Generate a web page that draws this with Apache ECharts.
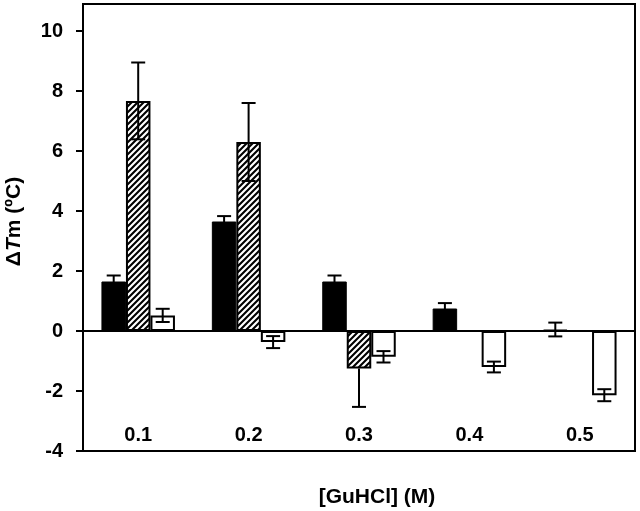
<!DOCTYPE html>
<html>
<head>
<meta charset="utf-8">
<script src="https://cdn.jsdelivr.net/npm/echarts@6/dist/echarts.min.js"></script>
<style>html,body{margin:0;padding:0;background:#fff;}#c{width:640px;height:511px;}</style>
</head>
<body>
<div id="c"></div>
<script>
var categories = ['0.1', '0.2', '0.3', '0.4', '0.5'];
var blackVals = [1.65, 3.65, 1.65, 0.75, 0.05];
var blackErrLow = [0.2, 0.18, 0.2, 0.18, 0.23];
var blackErrHigh = [0.2, 0.18, 0.2, 0.18, 0.23];
var hatchVals = [7.67, 6.3, -1.25, null, null];
var hatchErrLow = [1.28, 1.3, 1.28, null, null];
var hatchErrHigh = [1.28, 1.3, 0, null, null];
var whiteVals = [0.52, -0.37, -0.86, -1.2, -2.14];
var whiteErrLow = [0.22, 0.2, 0.19, 0.18, 0.2];
var whiteErrHigh = [0.22, 0.2, 0.19, 0.18, 0.2];
var yTicks = [-4, -2, 0, 2, 4, 6, 8, 10];

var FONT = '"Liberation Sans", Arial, sans-serif';
var BAR_W = 24.5;

// hatch pattern
var pc = document.createElement('canvas');
pc.width = 6; pc.height = 6;
var g = pc.getContext('2d');
g.fillStyle = '#fff'; g.fillRect(0, 0, 6, 6);
g.strokeStyle = '#000'; g.lineWidth = 2.1;
g.beginPath();
g.moveTo(-1, 7); g.lineTo(7, -1);
g.moveTo(-4, 4); g.lineTo(4, -4);
g.moveTo(2, 10); g.lineTo(10, 2);
g.stroke();

function errSeries(vals, lows, highs, offset) {
  var data = [];
  for (var i = 0; i < vals.length; i++) {
    if (vals[i] == null || lows[i] == null) continue;
    data.push([i, vals[i] - lows[i], vals[i] + highs[i], highs[i] > 0 ? 1 : 0]);
  }
  return {
    type: 'custom',
    z: 10,
    data: data,
    renderItem: function (params, api) {
      var lo = api.coord([api.value(0), api.value(1)]);
      var hi = api.coord([api.value(0), api.value(2)]);
      var x = lo[0] + offset;
      var cw = 7;
      var st = { stroke: '#000', lineWidth: 2 };
      var ch = [
        { type: 'line', shape: { x1: x, y1: lo[1], x2: x, y2: hi[1] }, style: st },
        { type: 'line', shape: { x1: x - cw, y1: lo[1], x2: x + cw, y2: lo[1] }, style: st }
      ];
      if (api.value(3)) {
        ch.push({ type: 'line', shape: { x1: x - cw, y1: hi[1], x2: x + cw, y2: hi[1] }, style: st });
      }
      return { type: 'group', children: ch };
    }
  };
}

var chart = echarts.init(document.getElementById('c'));
chart.setOption({
  animation: false,
  backgroundColor: '#fff',
  grid: { left: 83, right: 5, top: 4, bottom: 60, show: true, borderColor: '#000', borderWidth: 2, outerBoundsMode: 'none', containLabel: false },
  xAxis: {
    type: 'category',
    data: categories,
    axisLine: { show: false },
    axisTick: { show: false },
    axisLabel: { inside: true, margin: 6, color: '#000', fontSize: 20, fontWeight: 'bold', fontFamily: FONT },
    name: '[GuHCl] (M)',
    nameLocation: 'middle',
    nameGap: 36,
    nameTextStyle: { color: '#000', fontSize: 21, fontWeight: 'bold', fontFamily: FONT, padding: [0, 0, 0, 36] }
  },
  yAxis: {
    type: 'value',
    min: -4, max: 10.9, interval: 2,
    splitLine: { show: false },
    axisLine: { show: true, lineStyle: { color: '#000', width: 2 } },
    axisTick: { show: true, length: 7, lineStyle: { color: '#000', width: 2 }, customValues: yTicks },
    axisLabel: { margin: 20, color: '#000', fontSize: 20, fontWeight: 'bold', fontFamily: FONT, customValues: yTicks },
    name: '{r|Δ}{i|T}{r|m (ºC)}',
    nameLocation: 'middle',
    nameGap: 58,
    nameTextStyle: {
      padding: [0, 0, 0, 12],
      rich: {
        r: { color: '#000', fontSize: 21, fontWeight: 'bold', fontFamily: FONT },
        i: { color: '#000', fontSize: 21, fontWeight: 'bold', fontStyle: 'italic', fontFamily: FONT }
      }
    }
  },
  series: [
    {
      type: 'bar', data: blackVals, barWidth: BAR_W, barGap: '0%',
      itemStyle: { color: '#000', borderColor: '#000', borderWidth: 1 },
      markLine: {
        silent: true, symbol: 'none', label: { show: false },
        lineStyle: { color: '#000', width: 2, type: 'solid' },
        data: [{ yAxis: 0 }]
      }
    },
    {
      type: 'bar', data: hatchVals, barWidth: BAR_W, barGap: '0%',
      itemStyle: { color: { image: pc, repeat: 'repeat' }, borderColor: '#000', borderWidth: 2 }
    },
    {
      type: 'bar', data: whiteVals, barWidth: BAR_W, barGap: '0%',
      itemStyle: { color: '#fff', borderColor: '#000', borderWidth: 2 }
    },
    errSeries(blackVals, blackErrLow, blackErrHigh, -BAR_W),
    errSeries(hatchVals, hatchErrLow, hatchErrHigh, 0),
    errSeries(whiteVals, whiteErrLow, whiteErrHigh, BAR_W)
  ]
});
</script>
</body>
</html>
